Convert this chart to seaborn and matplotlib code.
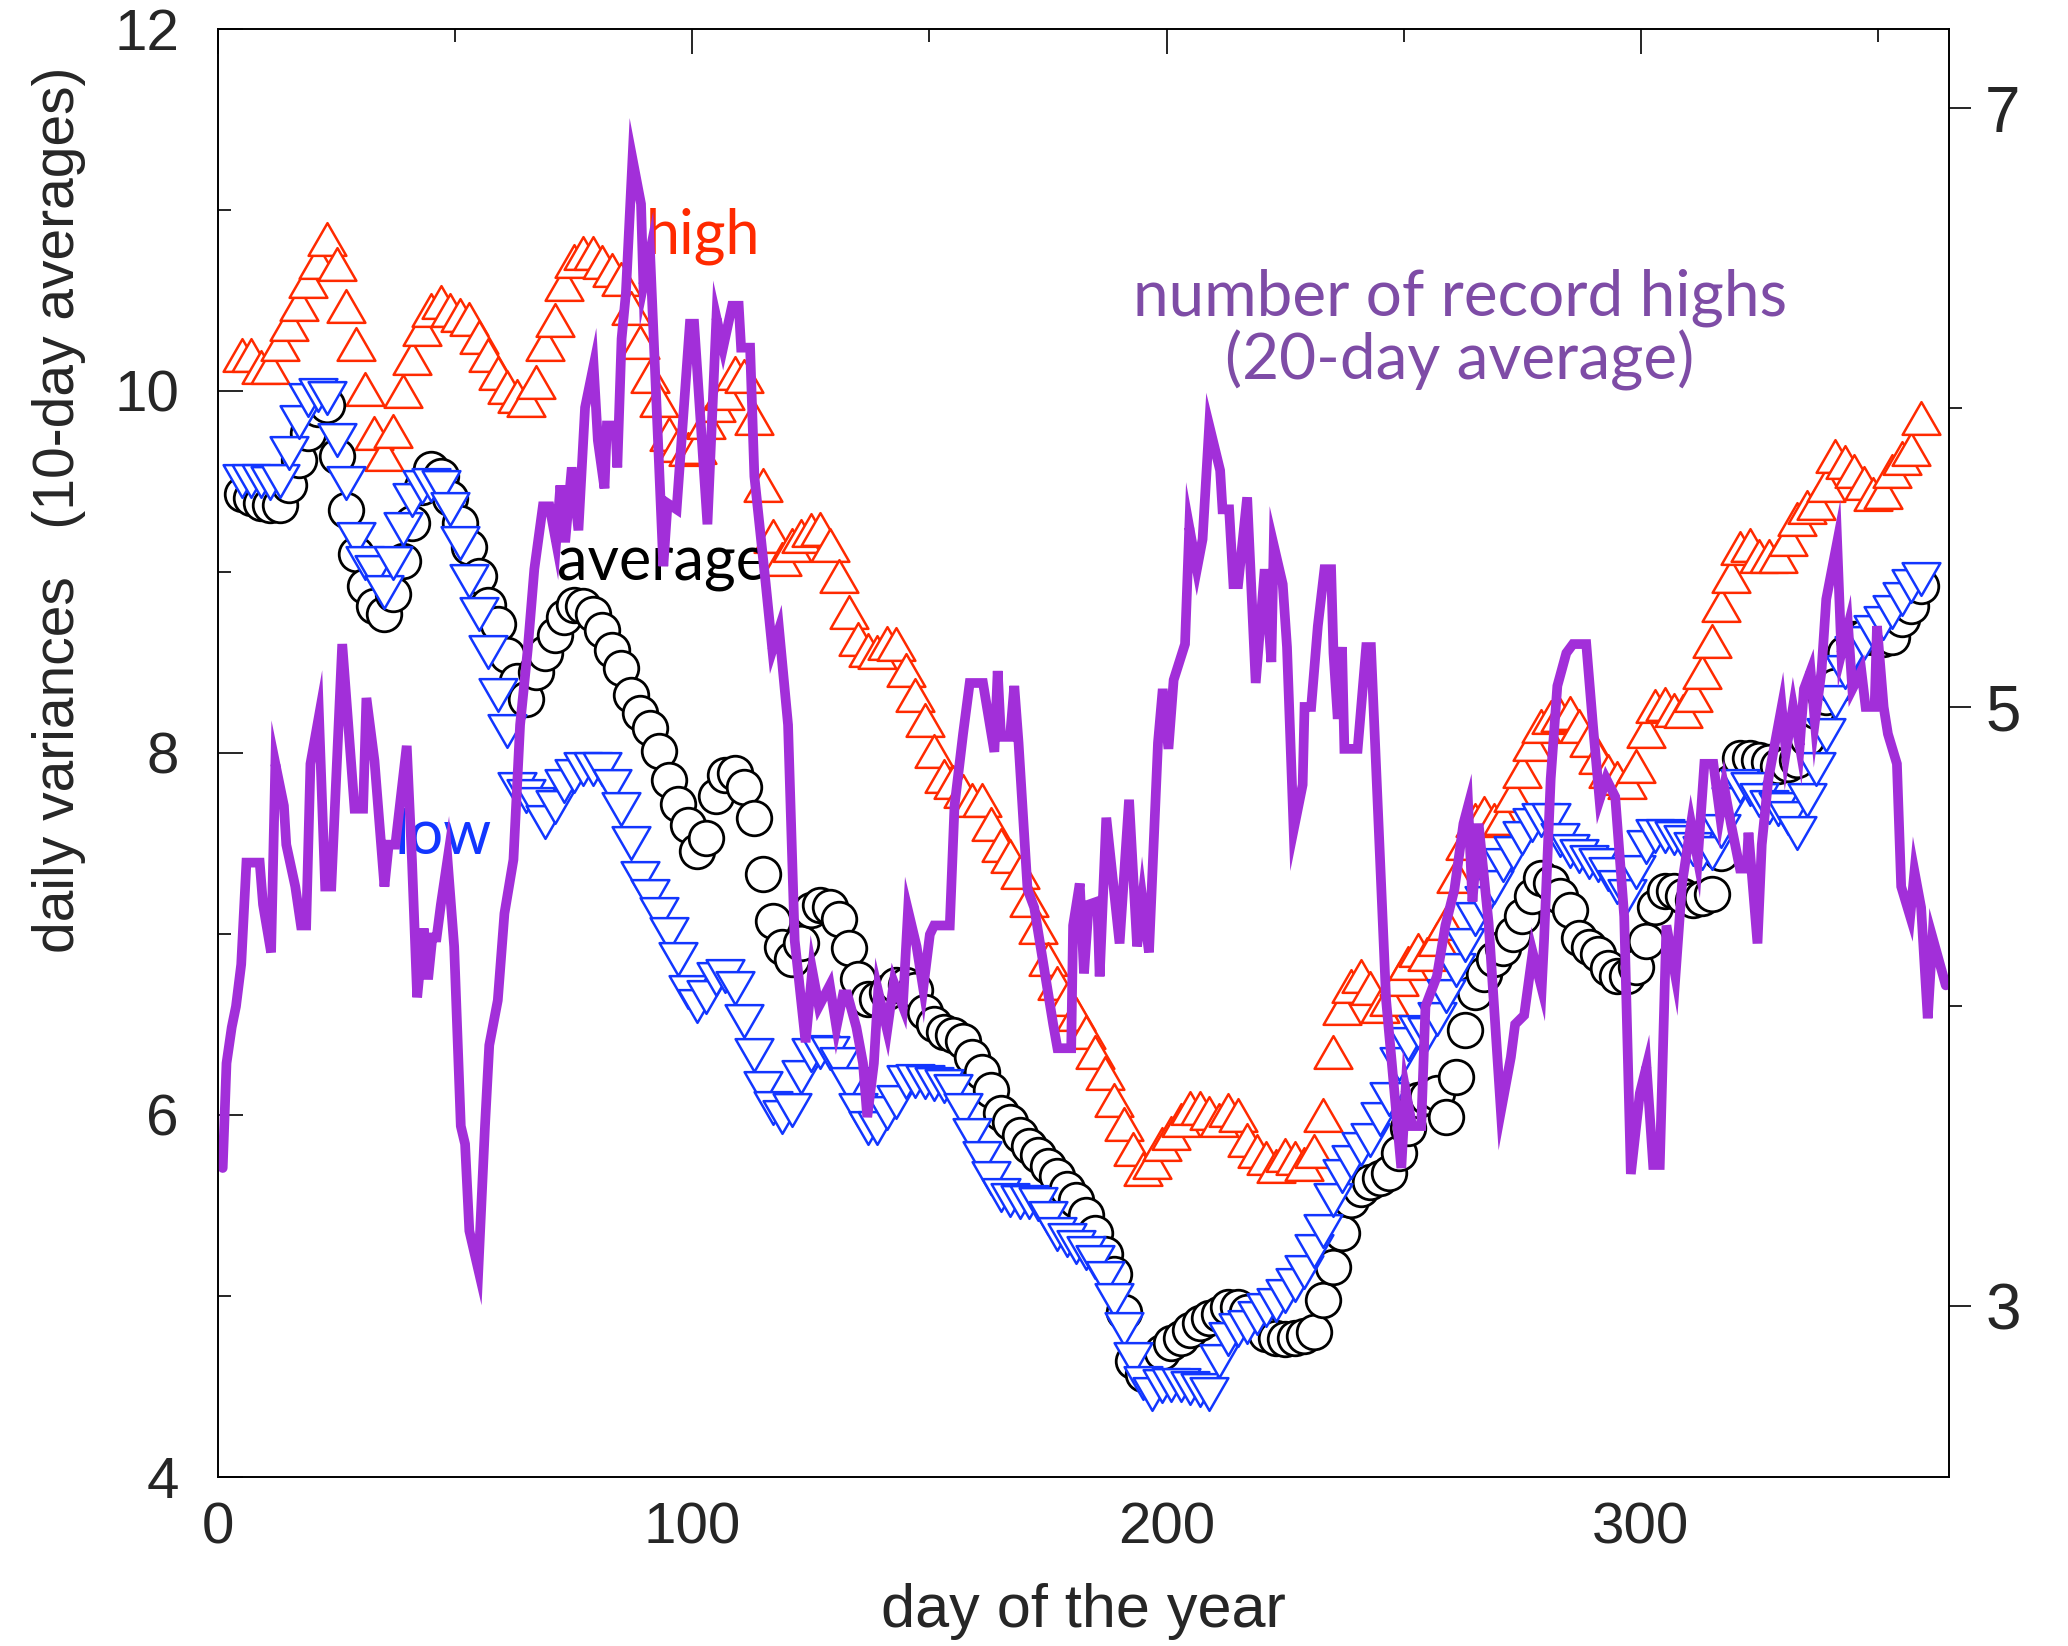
import matplotlib
matplotlib.use("Agg")
import matplotlib.pyplot as plt
import pandas as pd
import seaborn as sns
from matplotlib.markers import MarkerStyle
from matplotlib.path import Path

# style first, fonts after (set_style resets font.family)
sns.set_style("white")
plt.rcParams['font.family'] = ['Liberation Sans', 'DejaVu Sans']

# --- data ----------------------------------------------------------------
days = list(range(5, 360, 2))

high = [10.20, 10.20, 10.13, 10.13, 10.26, 10.37, 10.48, 10.61, 10.71, 10.84,
        10.70, 10.47, 10.26, 10.01, 9.77, 9.65, 9.78, 10.00, 10.18, 10.34,
        10.45, 10.49, 10.45, 10.42, 10.40, 10.30, 10.20, 10.10, 10.02, 9.97,
        9.95, 10.05, 10.26, 10.39, 10.59, 10.72, 10.76, 10.76, 10.71, 10.67,
        10.62, 10.46, 10.27, 10.08, 9.95, 9.76, 9.70, 9.68, 9.69, 9.83,
        9.92, 9.99, 10.10, 10.08, 9.85, 9.48, 9.20, 9.07, 9.15, 9.20,
        9.23, 9.24, 9.15, 8.98, 8.78, 8.63, 8.57, 8.56, 8.61, 8.60,
        8.46, 8.32, 8.18, 8.01, 7.87, 7.84, 7.79, 7.74, 7.74, 7.61,
        7.49, 7.43, 7.34, 7.19, 7.04, 6.86, 6.73, 6.64, 6.56, 6.46,
        6.35, 6.23, 6.08, 5.95, 5.81, 5.70, 5.74, 5.84, 5.90, 5.97,
        6.04, 6.04, 6.01, 5.97, 6.03, 6.00, 5.86, 5.80, 5.76, 5.72,
        5.78, 5.76, 5.73, 5.80, 6.00, 6.35, 6.59, 6.71, 6.77, 6.70,
        6.60, 6.64, 6.75, 6.84, 6.91, 6.89, 6.97, 7.06, 7.32, 7.50,
        7.63, 7.67, 7.63, 7.64, 7.77, 7.90, 8.05, 8.15, 8.20, 8.21,
        8.22, 8.15, 8.07, 7.98, 7.90, 7.86, 7.84, 7.93, 8.12, 8.26,
        8.27, 8.24, 8.23, 8.32, 8.45, 8.62, 8.82, 8.98, 9.13, 9.15,
        9.09, 9.09, 9.09, 9.18, 9.29, 9.36, 9.38, 9.48, 9.64, 9.61,
        9.56, 9.49, 9.43, 9.44, 9.56, 9.63, 9.68, 9.85]

average = [9.43, 9.41, 9.38, 9.37, 9.37, 9.48, 9.62, 9.77, 9.90, 9.92,
           9.64, 9.34, 9.10, 8.92, 8.81, 8.77, 8.88, 9.06, 9.27, 9.47,
           9.57, 9.53, 9.41, 9.27, 9.14, 8.98, 8.82, 8.71, 8.54, 8.40,
           8.30, 8.45, 8.55, 8.65, 8.75, 8.82, 8.81, 8.77, 8.68, 8.57,
           8.47, 8.32, 8.22, 8.14, 8.01, 7.85, 7.72, 7.60, 7.46, 7.53,
           7.76, 7.88, 7.89, 7.81, 7.64, 7.33, 7.07, 6.93, 6.86, 6.95,
           7.13, 7.16, 7.15, 7.08, 6.92, 6.75, 6.64, 6.64, 6.68, 6.72,
           6.72, 6.69, 6.57, 6.50, 6.46, 6.44, 6.41, 6.32, 6.24, 6.14,
           6.01, 5.96, 5.89, 5.83, 5.78, 5.72, 5.66, 5.59, 5.53, 5.45,
           5.35, 5.23, 5.12, 4.91, 4.64, 4.57, 4.61, 4.69, 4.74, 4.77,
           4.81, 4.85, 4.88, 4.90, 4.94, 4.94, 4.91, 4.85, 4.79, 4.77,
           4.76, 4.77, 4.78, 4.80, 4.98, 5.16, 5.35, 5.53, 5.59, 5.63,
           5.65, 5.68, 5.79, 5.93, 6.08, 6.10, 6.12, 5.99, 6.21, 6.47,
           6.68, 6.78, 6.86, 6.92, 7.00, 7.10, 7.21, 7.31, 7.28, 7.21,
           7.13, 6.98, 6.93, 6.89, 6.81, 6.77, 6.77, 6.82, 6.96, 7.15,
           7.24, 7.24, 7.21, 7.19, 7.20, 7.22, 7.45, 7.84, 7.97, 7.97,
           7.96, 7.95, 7.93, 7.94, 7.96, 8.08, 8.23, 8.31, 8.37, 8.55,
           8.63, 8.64, 8.64, 8.63, 8.64, 8.74, 8.81, 8.92]

low = [9.50, 9.50, 9.50, 9.49, 9.50, 9.66, 9.83, 9.95, 9.98, 9.96,
       9.73, 9.49, 9.18, 9.05, 9.00, 8.89, 9.05, 9.24, 9.40, 9.47,
       9.48, 9.47, 9.35, 9.16, 8.95, 8.77, 8.56, 8.32, 8.12, 7.80,
       7.76, 7.72, 7.62, 7.70, 7.82, 7.87, 7.91, 7.91, 7.91, 7.82,
       7.69, 7.50, 7.31, 7.21, 7.11, 7.00, 6.86, 6.68, 6.60, 6.65,
       6.75, 6.77, 6.70, 6.52, 6.33, 6.15, 6.04, 5.99, 6.03, 6.21,
       6.33, 6.35, 6.34, 6.28, 6.17, 6.03, 5.93, 5.93, 6.01, 6.07,
       6.18, 6.19, 6.18, 6.17, 6.16, 6.13, 6.03, 5.89, 5.76, 5.65,
       5.56, 5.53, 5.52, 5.52, 5.51, 5.43, 5.34, 5.31, 5.27, 5.24,
       5.19, 5.10, 4.98, 4.82, 4.65, 4.52, 4.46, 4.50, 4.51, 4.51,
       4.49, 4.48, 4.46, 4.64, 4.76, 4.81, 4.83, 4.88, 4.92, 4.95,
       5.00, 5.06, 5.13, 5.25, 5.36, 5.53, 5.66, 5.74, 5.81, 5.86,
       5.98, 6.09, 6.28, 6.39, 6.46, 6.45, 6.53, 6.66, 6.80, 6.94,
       7.08, 7.17, 7.26, 7.38, 7.45, 7.53, 7.60, 7.63, 7.63, 7.52,
       7.46, 7.43, 7.40, 7.38, 7.33, 7.26, 7.21, 7.34, 7.48, 7.54,
       7.54, 7.53, 7.51, 7.47, 7.45, 7.45, 7.57, 7.72, 7.82, 7.80,
       7.74, 7.70, 7.69, 7.64, 7.56, 7.74, 7.91, 8.10, 8.28, 8.45,
       8.55, 8.61, 8.67, 8.72, 8.78, 8.85, 8.92, 8.96]

# number of record highs (20-day average), right axis
record_day = [1, 1.8, 2.9, 3.8, 4.9, 6, 8.8, 9.5, 11.2, 12.1,
              13.9, 14.4, 16.3, 17.5, 18.6, 19.5, 21.3, 22.6, 23.9, 26.2,
              28.8, 30.6, 31.3, 33, 35.1, 36, 37.4, 39.8, 40.9, 42,
              43.4, 44.3, 45.2, 46.1, 47, 48.4, 49.8, 51.2, 52.1, 53,
              54.9, 56.3, 57.2, 59, 60.4, 62.3, 63.7, 65.3, 66.7, 68.5,
              69.9, 71.3, 72.2, 73.2, 74.6, 76, 77.4, 79.2, 80.1, 81.5,
              82, 83.8, 84.2, 85.1, 86, 87.4, 89.2, 89.7, 91.1, 93.9,
              94.8, 96.7, 99.5, 100.4, 103.2, 105.1, 106.5, 108.4, 109.8, 110.3,
              112.2, 113.1, 115.5, 116.9, 118.3, 120.2, 121.6, 123.9, 125.3, 126.7,
              129, 130.4, 131.8, 132.7, 134.6, 136, 136.9, 138.3, 139.2, 141.1,
              142.5, 144.4, 145.5, 147.3, 148.7, 150.1, 151, 154.3, 155.3, 157.1,
              158.5, 161.3, 163.7, 164.4, 165.1, 167, 167.9, 168.8, 170.7, 172.1,
              176.1, 177, 179.9, 180.3, 181.7, 182.6, 183.6, 185.4, 185.9, 187.3,
              190.1, 192.1, 193.8, 194.9, 196.3, 198.2, 199.2, 200.4, 201.5, 203.9,
              204.8, 206.4, 207.6, 209, 211.3, 211.8, 213.2, 214.1, 215.1, 217,
              218.8, 220.7, 222.1, 222.6, 224.5, 225.4, 226.8, 228.7, 229.1, 230.5,
              231.9, 233.3, 234.7, 235.2, 236.1, 237, 237.5, 240.3, 242.1, 243.1,
              246.3, 249.5, 250.4, 251.8, 253.7, 254.6, 257, 258.8, 260.7, 262.6,
              263.6, 264.5, 265.8, 267.9, 270.5, 272.6, 273.5, 275.4, 277.2, 279.1,
              279.6, 281, 282.4, 284.3, 285.7, 288.5, 289.9, 291.3, 292.7, 294.6,
              296.5, 297.9, 299.8, 301.2, 302.6, 304, 305.4, 307.3, 308.7, 310.6,
              312, 313.4, 315.3, 316.7, 317.6, 319, 320.9, 322.3, 322.7, 324.6,
              325.5, 326.9, 328.3, 329.7, 330.6, 332.1, 333.5, 334.4, 335.8, 336.7,
              338.1, 339.1, 341.4, 342.3, 343.7, 344.6, 346.5, 347.4, 349.3, 349.8,
              351.2, 352.1, 354, 354.9, 356.8, 357.7, 359.1, 360.5, 361.5, 364.3]

record_avg = [3.46, 3.81, 3.93, 4.00, 4.14, 4.48, 4.48, 4.34, 4.18, 4.81,
              4.67, 4.54, 4.40, 4.27, 4.27, 4.81, 4.97, 4.40, 4.40, 5.21,
              4.66, 4.66, 5.03, 4.82, 4.40, 4.54, 4.54, 4.87, 4.49, 4.03,
              4.26, 4.09, 4.23, 4.23, 4.34, 4.49, 4.20, 3.60, 3.54, 3.25,
              3.12, 3.60, 3.87, 4.02, 4.31, 4.49, 4.94, 5.19, 5.46, 5.67,
              5.67, 5.55, 5.74, 5.55, 5.80, 5.59, 6.00, 6.14, 5.89, 5.73,
              5.94, 5.94, 5.80, 6.23, 6.38, 6.83, 6.68, 6.41, 6.52, 5.47,
              5.68, 5.66, 6.28, 6.28, 5.61, 6.30, 6.20, 6.34, 6.34, 6.20,
              6.20, 5.77, 5.41, 5.19, 5.26, 4.94, 4.22, 3.88, 4.12, 4.00,
              4.07, 3.93, 4.04, 4.04, 3.93, 3.81, 3.63, 3.81, 4.05, 3.92,
              4.08, 4.00, 4.32, 4.20, 4.06, 4.24, 4.27, 4.27, 4.67, 4.91,
              5.08, 5.08, 4.85, 5.12, 4.90, 4.90, 5.07, 4.88, 4.39, 4.33,
              3.94, 3.86, 3.86, 4.27, 4.41, 4.11, 4.34, 4.35, 4.10, 4.63,
              4.21, 4.69, 4.20, 4.36, 4.18, 4.88, 5.06, 4.86, 5.09, 5.21,
              5.60, 5.46, 5.56, 5.94, 5.79, 5.66, 5.66, 5.41, 5.41, 5.70,
              5.08, 5.46, 5.15, 5.54, 5.41, 5.20, 4.59, 4.74, 5.00, 5.00,
              5.27, 5.46, 5.46, 5.18, 4.96, 5.20, 4.86, 4.86, 5.20, 5.20,
              4.02, 3.46, 3.72, 3.60, 3.60, 4.00, 4.10, 4.27, 4.39, 4.61,
              4.67, 4.35, 4.61, 4.28, 3.65, 3.83, 3.94, 3.97, 4.18, 4.06,
              4.22, 4.76, 5.07, 5.18, 5.21, 5.21, 4.94, 4.69, 4.76, 4.70,
              4.30, 3.44, 3.71, 3.80, 3.47, 3.47, 4.27, 4.10, 4.41, 4.61,
              4.49, 4.81, 4.81, 4.64, 4.73, 4.61, 4.46, 4.46, 4.58, 4.21,
              4.54, 4.76, 4.88, 5.00, 4.85, 5.00, 4.87, 5.06, 5.12, 4.95,
              5.12, 5.36, 5.55, 5.18, 5.27, 5.06, 5.12, 5.00, 5.00, 5.27,
              5.00, 4.91, 4.81, 4.40, 4.30, 4.45, 4.33, 3.96, 4.23, 4.07]

assert len(days) == len(high) == len(average) == len(low)
assert len(record_day) == len(record_avg)

RED = "#ff2a00"
BLUE = "#1236ff"
PURPLE = "#a22fd9"
TEXT_PURPLE = "#7e4ca6"
ANNOT_FONT = ['Lato', 'DejaVu Sans']

# equilateral triangles (matplotlib's ^ / v are as tall as they are wide)
TRI_UP = MarkerStyle(Path([(0, 0.5), (-0.5774, -0.5), (0.5774, -0.5), (0, 0.5)],
                          closed=True))
TRI_DOWN = MarkerStyle(Path([(0, -0.5), (-0.5774, 0.5), (0.5774, 0.5), (0, -0.5)],
                            closed=True))

df = pd.DataFrame({'day': days, 'high': high, 'average': average, 'low': low})
rec = pd.DataFrame({'day': record_day, 'records': record_avg})

fig = plt.figure(figsize=(20.68, 16.46), dpi=100)
ax = fig.add_axes([0.1054, 0.1027, 0.8371, 0.8797])

# --- markers (open symbols) ---
sns.scatterplot(data=df, x='day', y='high', marker=TRI_UP, s=740,
                facecolor='white', edgecolor=RED, linewidth=1.8, ax=ax, zorder=2)
sns.scatterplot(data=df, x='day', y='average', marker='o', s=620,
                facecolor='white', edgecolor='black', linewidth=2.0, ax=ax, zorder=3)
sns.scatterplot(data=df, x='day', y='low', marker=TRI_DOWN, s=740,
                facecolor='white', edgecolor=BLUE, linewidth=1.8, ax=ax, zorder=4)

ax.set_xlim(0, 365)
ax.set_ylim(4, 12)
ax.set_xticks([0, 100, 200, 300])
ax.set_xticks([50, 150, 250, 350], minor=True)
ax.set_yticks([4, 6, 8, 10, 12])
ax.set_yticks([5, 7, 9, 11], minor=True)
ax.tick_params(which='both', direction='in', top=True, right=True,
               width=1.2, color='black', labelright=False, labeltop=False)
ax.tick_params(which='major', length=18, labelsize=42)
ax.tick_params(which='minor', length=9)
ax.tick_params(axis='x', pad=18)
ax.tick_params(axis='y', pad=28)

ax.set_xlabel("day of the year", fontsize=44)
ax.xaxis.set_label_coords(0.5, -0.093)
ax.xaxis.label.set_verticalalignment('center')
ax.set_ylabel("daily variances   (10-day averages)", fontsize=41)
ax.yaxis.set_label_coords(-0.092, 0.668)
ax.yaxis.label.set_verticalalignment('center')

# --- annotations ---
ax.text(0.2474, 0.845, "high", transform=ax.transAxes, color=RED,
        fontsize=44, family=ANNOT_FONT, ha='left', va='baseline', zorder=6)
ax.text(0.1958, 0.619, "average", transform=ax.transAxes, color='black',
        fontsize=44, family=ANNOT_FONT, ha='left', va='baseline', zorder=6)
ax.text(0.1017, 0.430, "low", transform=ax.transAxes, color=BLUE,
        fontsize=44, family=ANNOT_FONT, ha='left', va='baseline', zorder=6)
ax.text(0.7175, 0.802, "number of record highs", transform=ax.transAxes,
        color=TEXT_PURPLE, fontsize=46, family=ANNOT_FONT, ha='center', va='baseline')
ax.text(0.7175, 0.7576, "(20-day average)", transform=ax.transAxes,
        color=TEXT_PURPLE, fontsize=46, family=ANNOT_FONT, ha='center', va='baseline')

# --- record highs on the right axis ---
ax2 = ax.twinx()
sns.lineplot(data=rec, x='day', y='records', color=PURPLE, linewidth=7,
             estimator=None, sort=False, ax=ax2, solid_joinstyle='miter')
ax2.set_ylim(2.428, 7.2645)
ax2.set_yticks([3, 5, 7])
ax2.set_yticks([4, 6], minor=True)
ax2.tick_params(which='both', direction='out', right=True, left=False,
                width=1.2, color='black')
ax2.tick_params(which='major', length=16, labelsize=46, pad=10)
ax2.tick_params(which='minor', length=9)
ax2.set_ylabel('')
ax2.set_xlabel('')

for a in (ax, ax2):
    for spine in a.spines.values():
        spine.set_linewidth(1.2)
        spine.set_color('black')

fig.savefig("out.png", dpi=100)
